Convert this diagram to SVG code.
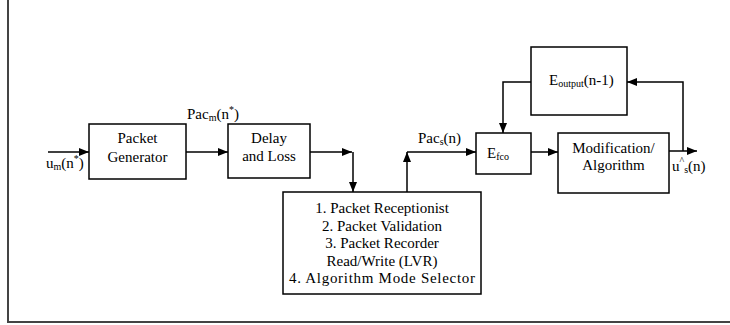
<svg xmlns="http://www.w3.org/2000/svg" width="730" height="325" viewBox="0 0 730 325">
<defs>
<marker id="ah" markerWidth="10" markerHeight="8" refX="10" refY="4" orient="auto" markerUnits="userSpaceOnUse">
<path d="M0,0 L10,4 L0,8 Z" fill="#000"/>
</marker>
<style>
.box{fill:#fff;stroke:#000;stroke-width:1.5}
.t{font-family:"Liberation Serif","Times New Roman",serif;font-size:15px;fill:#000}
.c{text-anchor:middle}
.sub{font-size:10px}
.cn{fill:none;stroke:#000;stroke-width:1.5}
.frame{fill:none;stroke:#444;stroke-width:2}
</style>
</defs>
<rect width="730" height="325" fill="#fff"/>
<path class="frame" d="M8,0 V322 H730"/>

<g id="connectors">
<path class="cn" d="M48,152 H89" marker-end="url(#ah)"/>
<path class="cn" d="M186,152 H228" marker-end="url(#ah)"/>
<path class="cn" d="M310,152 H352" marker-end="url(#ah)"/>
<path class="cn" d="M353,152 V192" marker-end="url(#ah)"/>
<path class="cn" d="M407,192 V152" marker-end="url(#ah)"/>
<path class="cn" d="M407,152 H476" marker-end="url(#ah)"/>
<path class="cn" d="M531,152 H558" marker-end="url(#ah)"/>
<path class="cn" d="M669,151 H697" marker-end="url(#ah)"/>
<path class="cn" d="M683,151 V82 H627" marker-end="url(#ah)"/>
<path class="cn" d="M531,82 H503 V133" marker-end="url(#ah)"/>
</g>

<g id="label-input">
<text class="t" x="46" y="168">u<tspan class="sub" dy="2">m</tspan><tspan dy="-2">(n</tspan><tspan class="sub" dy="-6">*</tspan><tspan dy="6">)</tspan></text>
</g>

<g id="packet-generator">
<rect class="box" x="89" y="124" width="97" height="55"/>
<text class="t c" x="137.5" y="143">Packet</text>
<text class="t c" x="137.5" y="162">Generator</text>
</g>

<g id="label-pacm">
<text class="t" x="187" y="119">Pac<tspan class="sub" dy="2">m</tspan><tspan dy="-2">(n</tspan><tspan class="sub" dy="-6">*</tspan><tspan dy="6">)</tspan></text>
</g>

<g id="delay-loss">
<rect class="box" x="228" y="124" width="82" height="54"/>
<text class="t c" x="269" y="143">Delay</text>
<text class="t c" x="269" y="161">and Loss</text>
</g>

<g id="receptionist">
<rect class="box" x="283" y="192" width="198" height="102"/>
<text class="t c" x="382" y="213">1. Packet Receptionist</text>
<text class="t c" x="382" y="230.5">2. Packet Validation</text>
<text class="t c" x="382" y="248">3. Packet Recorder</text>
<text class="t c" x="382" y="265.5">Read/Write (LVR)</text>
<text class="t c" x="382" y="283" textLength="186" lengthAdjust="spacing">4. Algorithm Mode Selector</text>
</g>

<g id="label-pacs">
<text class="t" x="418" y="143">Pac<tspan class="sub" dy="2">s</tspan><tspan dy="-2">(n)</tspan></text>
</g>

<g id="efco">
<rect class="box" x="476" y="133" width="55" height="41"/>
<text class="t" x="487" y="158">E<tspan class="sub" dy="2">fco</tspan></text>
</g>

<g id="eoutput">
<rect class="box" x="531" y="47" width="96" height="68"/>
<text class="t" x="549" y="85">E<tspan class="sub" dy="2">output</tspan><tspan dy="-2">(n-1)</tspan></text>
</g>

<g id="modification">
<rect class="box" x="558" y="133" width="111" height="60"/>
<text class="t c" x="613.5" y="153">Modification/</text>
<text class="t c" x="613.5" y="170">Algorithm</text>
</g>

<g id="label-output">
<text class="t" x="672" y="171">u<tspan class="sub" dy="-7">^</tspan><tspan class="sub" dy="9">s</tspan><tspan dy="-2">(n)</tspan></text>
</g>
</svg>
